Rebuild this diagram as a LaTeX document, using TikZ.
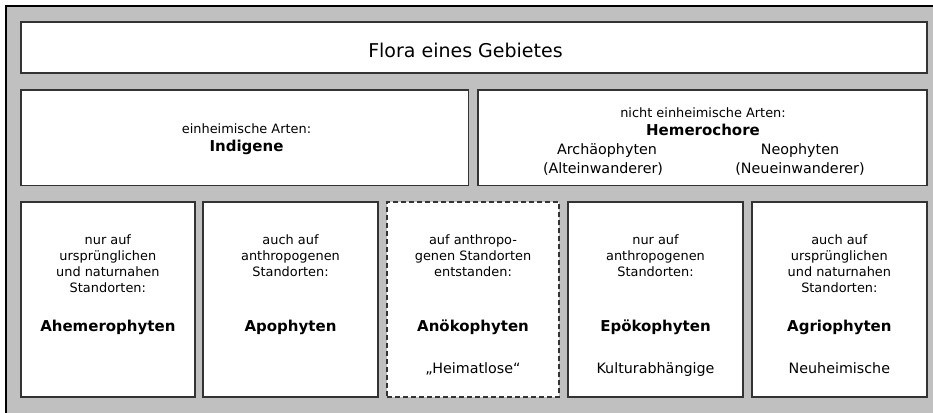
\documentclass[tikz,border=0pt]{standalone}
\usepackage{fontspec}
\setmainfont{DejaVu Sans}
\definecolor{bggray}{HTML}{C0C0C0}
\definecolor{boxline}{HTML}{333333}
\begin{document}
\begin{tikzpicture}[x=1pt,y=-1pt,
  box/.style={draw=boxline, line width=1.8pt, fill=white, inner sep=0pt},
  dbox/.style={box, dash pattern=on 5pt off 3pt},
  sm/.style={font=\fontsize{12.9}{16}\selectfont, align=center, inner sep=0pt},
  smb/.style={font=\fontsize{12.9}{16}\selectfont, inner sep=0pt, anchor=base},
  bd/.style={font=\fontsize{15}{18}\selectfont\bfseries, inner sep=0pt, anchor=base},
  md/.style={font=\fontsize{14.3}{19}\selectfont, inner sep=0pt, anchor=base},
  ttl/.style={font=\fontsize{19}{22}\selectfont, inner sep=0pt, anchor=base},
]
\useasboundingbox (0,0) rectangle (933,412);
\clip (0,0) rectangle (933,412);
% outer frame
\draw[fill=bggray, draw=black, line width=2pt] (6,6) rectangle (960,440);

% top box
\node[box, minimum width=906pt, minimum height=50.4pt] (flora) at (473.7,47.5) {};
\node[ttl] (tflora) at (465.5,57) {Flora eines Gebietes};

% second row
\node[box, minimum width=447.8pt, minimum height=95.5pt] (indig) at (244.6,137.75) {};
\node[box, minimum width=448.7pt, minimum height=95.5pt] (hemero) at (702.35,137.75) {};
\node[smb] (tind1) at (246.5,133) {einheimische Arten:};
\node[bd] (tind2) at (246.5,151) {Indigene};
\node[smb] (thm1) at (703,117) {nicht einheimische Arten:};
\node[bd] (thm2) at (703,135) {Hemerochore};
\node[md] (tarch) at (607,154) {Archäophyten};
\node[md] (tneo) at (800,154) {Neophyten};
\node[md] (talt) at (603,173) {(Alteinwanderer)};
\node[md] (tneu) at (800,173) {(Neueinwanderer)};

% bottom row
\node[box, minimum width=174.3pt, minimum height=195.3pt] (b1) at (107.85,299.65) {};
\node[box, minimum width=175pt, minimum height=195.3pt] (b2) at (290.5,299.65) {};
\node[dbox, minimum width=172pt, minimum height=195.3pt] (b3) at (473,299.65) {};
\node[box, minimum width=175pt, minimum height=195.3pt] (b4) at (655.5,299.65) {};
\node[box, minimum width=174.7pt, minimum height=195.3pt] (b5) at (839.35,299.65) {};

\node[sm, anchor=north] (d1) at (107.85,234.2) {nur auf\\ursprünglichen\\und naturnahen\\Standorten:};
\node[sm, anchor=north] (d2) at (290.5,234.2) {auch auf\\anthropogenen\\Standorten:};
\node[sm, anchor=north] (d3) at (473,234.2) {auf anthropo-\\genen Standorten\\entstanden:};
\node[sm, anchor=north] (d4) at (655.5,234.2) {nur auf\\anthropogenen\\Standorten:};
\node[sm, anchor=north] (d5) at (839.35,234.2) {auch auf\\ursprünglichen\\und naturnahen\\Standorten:};

\node[bd] (n1) at (107.85,331) {Ahemerophyten};
\node[bd] (n2) at (290.5,331) {Apophyten};
\node[bd] (n3) at (473,331) {Anökophyten};
\node[bd] (n4) at (655.5,331) {Epökophyten};
\node[bd] (n5) at (839.35,331) {Agriophyten};

\node[md] (e3) at (473,373) {„Heimatlose“};
\node[md] (e4) at (655.5,373) {Kulturabhängige};
\node[md] (e5) at (839.35,373) {Neuheimische};
\end{tikzpicture}
\end{document}
